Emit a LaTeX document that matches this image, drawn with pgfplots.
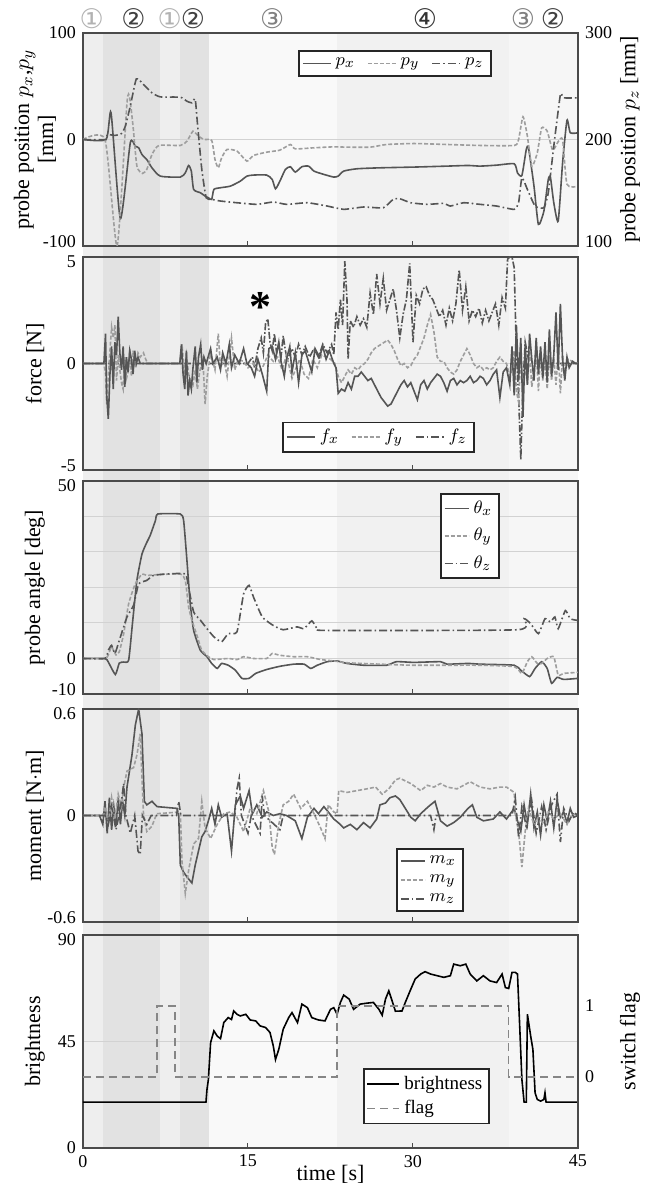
\documentclass[border=0pt]{standalone}
\usepackage{pgfplots}
\pgfplotsset{compat=1.18}
\usepackage{fontspec}
\setmainfont{Liberation Serif}
\newfontfamily\dejavu{DejaVu Sans}
\definecolor{dk}{HTML}{555555}
\definecolor{lt}{HTML}{9E9E9E}
\definecolor{framec}{HTML}{4A4A4A}
\definecolor{gridc}{HTML}{D2D2D2}
\definecolor{shA}{HTML}{EEEEEE}
\definecolor{shB}{HTML}{E2E2E2}
\definecolor{shC}{HTML}{F9F9F9}
\definecolor{shD}{HTML}{F1F1F1}
\definecolor{shE}{HTML}{F6F6F6}
\newcommand{\up}[1]{\raisebox{2pt}[\height][\depth]{#1}}
\newcommand{\dn}[1]{\raisebox{-2.5pt}[\height][\depth]{#1}}
\pgfplotsset{
  panel/.style={
    scale only axis, width=247.5pt, height=106.5pt,
    xmin=0, xmax=45, xtick={0,15,30,45}, xticklabels={},
    xtick pos=bottom, tick align=inside,
    axis line style={framec, line width=0.7pt},
    tick style={framec, line width=0.5pt}, major tick length=2.5pt, minor tick length=0pt,
    ytick style={draw=none},
    tick label style={font=\fontsize{9}{10}\selectfont},
    label style={font=\fontsize{11}{12}\selectfont},
    /pgf/number format/assume math mode=true,
    grid style={gridc, line width=0.5pt},
    ymajorgrids,
    legend style={draw=black!85, line width=0.9pt, fill=white, font=\fontsize{9.5}{10}\selectfont, inner sep=1.5pt},
    legend cell align=left,
    legend image code/.code={\draw[##1] (0pt,0pt) -- (14pt,0pt);},
  },
  leftlab/.style={ylabel style={at={(axis description cs:-0.097,0.5)}, anchor=center}},
  rightlab/.style={ylabel style={at={(axis description cs:1.105,0.5)}, anchor=center}},
  sx/.style={dk, line width=0.8pt},
  sy/.style={lt, line width=0.8pt, dash pattern=on 2pt off 1pt},
  sz/.style={dk, line width=0.8pt, dash pattern=on 4pt off 1.5pt on 0.8pt off 1.5pt},
}
\begin{document}
\begin{tikzpicture}
\path[use as bounding box, fill=white] (0,0) rectangle (323pt,592.5pt);
% phase shading (x = 41.5pt + 5.5pt * t)
\fill[shA] (41.5pt,18.5pt) rectangle (51.51pt,576pt);
\fill[shB] (51.51pt,18.5pt) rectangle (79.84pt,576pt);
\fill[shA] (79.84pt,18.5pt) rectangle (90.18pt,576pt);
\fill[shB] (90.18pt,18.5pt) rectangle (104.31pt,576pt);
\fill[shC] (104.31pt,18.5pt) rectangle (168.55pt,576pt);
\fill[shD] (168.55pt,18.5pt) rectangle (254.35pt,576pt);
\fill[shE] (254.35pt,18.5pt) rectangle (289pt,576pt);
% phase labels
\begin{scope}[font=\dejavu\fontsize{13.5}{14}\selectfont]
\node[text=black!30] at (45.9pt,583pt) {①};
\node[text=black!75] at (66.8pt,583pt) {②};
\node[text=black!30] at (84.9pt,583pt) {①};
\node[text=black!75] at (96.5pt,583pt) {②};
\node[text=black!50] at (136.1pt,583pt) {③};
\node[text=black!80] at (212.5pt,583pt) {④};
\node[text=black!50] at (261.5pt,583pt) {③};
\node[text=black!75] at (276.5pt,583pt) {②};
\end{scope}

% ---------------- Panel 1 : position
\begin{axis}[panel, leftlab, at={(41.5pt,576pt)}, anchor=north west,
  ymin=-100, ymax=100, ytick={-100,0,100}, yticklabels={\up{-100},0,100},
  ylabel={probe position $p_x$,$p_y$\\{[mm]}}, ylabel style={align=center}]
\addplot[sx, smooth, tension=0.35] coordinates {(0,0) (2.1,0) (2.55,25) (3.4,-74.4) (4.3,-3.1) (4.75,-6.3) (5.06,-7.8) (5.36,-14.1) (5.8,-18.8) (6.27,-26.6) (7.03,-34.4) (8.85,-35.3) (9.3,-31.3) (9.6,-24.4) (9.85,-29.7) (10.06,-46.9) (10.67,-50) (11.1,-53.1) (11.4,-54.7) (11.7,-56.3) (11.9,-46.9) (12.5,-45.3) (13.4,-43.8) (14.3,-39.1) (14.9,-34.4) (15.5,-33.4) (16.7,-33.4) (17.2,-37.5) (17.5,-46.3) (17.9,-39.1) (18.4,-28.1) (18.85,-25.6) (19.3,-30.6) (19.9,-25.6) (20.5,-25) (21.0,-29.7) (21.9,-32.8) (22.8,-35.3) (23.2,-34.4) (23.7,-29.7) (24.9,-27.5) (27.0,-26.6) (30.1,-25.9) (33.1,-25) (35.0,-24.4) (36.1,-25) (37.6,-24.1) (39.2,-22.8) (39.5,-31.3) (39.9,-33.8) (40.3,-9.4) (40.5,-7.8) (41.0,-43.8) (41.4,-79.7) (41.9,-67.2) (42.3,-37.5) (42.5,-35.9) (42.8,-59.4) (43.2,-76.6) (43.6,-21.9) (44.0,18.1) (44.3,6.3) (45,6.3)};
\addplot[sy, smooth, tension=0.35] coordinates {(0,0) (2.0,0) (3.1,-100) (4.0,34.4) (4.24,39.1) (4.55,12.5) (4.9,-25) (5.4,-31.9) (5.8,-28.1) (6.27,-14.1) (6.9,-5.6) (8.85,-5.6) (9.45,-1.6) (10.0,7.8) (10.5,3.1) (11.0,0) (11.7,-0.9) (12.0,-18.8) (12.3,-26.6) (12.6,-17.2) (13.1,-9.4) (14.0,-10.9) (14.9,-20.3) (15.5,-15) (16.7,-11.9) (17.9,-10) (18.85,-4.7) (19.3,-8.8) (21.0,-7.8) (22.8,-6.9) (24.0,-7.2) (26.1,-7.2) (27.6,-4.7) (30.1,-3.8) (33.1,-4.7) (36.1,-5.6) (39.2,-5.6) (39.6,0) (40.0,21.3) (40.4,3.1) (40.8,-25) (41.3,-12.5) (41.7,10.9) (42.2,7.8) (42.7,-10) (43.2,-2) (43.6,0) (44.0,-42) (45,-44)};
\end{axis}
\begin{axis}[panel, rightlab, at={(41.5pt,576pt)}, anchor=north west,
  ymin=100, ymax=300, ytick={100,200,300}, yticklabels={\up{100},200,300},
  axis y line*=right, axis x line=none, ymajorgrids=false,
  ylabel={probe position $p_z$ [mm]},
  legend columns=3, legend style={at={(0.63,0.857)}, anchor=center, /tikz/every even column/.append style={column sep=4pt}}]
\addlegendimage{sx}\addlegendentry{$p_x$}
\addlegendimage{sy}\addlegendentry{$p_y$}
\addplot[sz, smooth, tension=0.3] coordinates {(0,200) (2.1,200) (2.2,204.7) (2.9,203.8) (3.5,205.6) (3.85,212.5) (4.3,231.3) (4.85,256.9) (5.5,251.6) (6.27,243.8) (7.03,240) (8.85,239.7) (9.45,235.9) (9.9,234.4) (10.2,238.1) (10.4,215.6) (10.8,171.9) (11.2,145.3) (11.7,143.8) (12.5,142.2) (14.0,140.6) (15.8,139.1) (17.3,141.3) (18.5,139.1) (20.4,140.6) (22.2,137.5) (23.7,134.4) (25.5,136.6) (27.3,135.9) (28.2,143.8) (28.8,144.4) (29.8,140.6) (31.3,139.1) (32.8,140) (33.4,137.5) (34.6,140.6) (36.1,139.1) (37.6,137.5) (39.2,134.4) (39.6,140.6) (39.9,164.1) (40.4,153.1) (41.1,137.5) (41.9,135.9) (42.3,150) (42.8,193.8) (43.4,242.2) (43.7,239.1) (45,239.1)};
\addlegendentry{$p_z$}
\end{axis}

% ---------------- Panel 2 : force
\begin{axis}[panel, leftlab, at={(41.5pt,464pt)}, anchor=north west,
  ymin=-5, ymax=5, ytick={-5,0,5}, yticklabels={\up{-5},0,\dn{5}},
  ylabel={force [N]}]
\addplot[sz, dash pattern=on 3.5pt off 1pt on 0.8pt off 1pt] coordinates {(0,0) (15.0,0) (15.4,0.3) (15.6,-0.2) (15.9,0.7) (16.2,1.2) (16.4,0.5) (16.6,1.9) (16.8,2.1) (17.0,1.0) (17.2,0.6) (17.4,1.4) (17.6,0.5) (17.8,0.9) (18.0,0.3) (18.2,1.3) (18.4,0.6) (18.6,0.2) (19.0,0.7) (19.3,0.3) (19.6,0.9) (19.9,0.4) (20.2,0.8) (20.6,0.3) (21.0,0.7) (21.4,0.3) (21.8,0.9) (22.2,0.5) (22.6,0.9) (22.8,0.4) (23.0,2.4) (23.2,1.6) (23.4,3.0) (23.6,1.8) (23.8,4.8) (24.0,3.0) (24.1,0.2) (24.3,2.0) (24.6,1.7) (24.9,2.2) (25.2,1.8) (25.5,2.1) (25.8,1.7) (26.1,3.3) (26.4,2.3) (26.7,4.2) (27.0,2.8) (27.3,4.0) (27.6,2.5) (27.9,3.0) (28.2,3.5) (28.5,2.5) (28.8,1.2) (29.1,2.3) (29.4,3.0) (29.7,4.7) (30.0,1.0) (30.3,3.2) (30.6,2.8) (30.9,3.5) (31.2,3.6) (31.5,3.2) (31.8,3.0) (32.1,2.6) (32.4,2.2) (32.7,2.5) (33.0,1.8) (33.3,2.6) (33.6,2.0) (33.9,2.8) (34.2,4.4) (34.5,2.5) (34.8,3.6) (35.1,2.0) (35.4,2.5) (35.7,2.2) (36.0,2.6) (36.3,1.9) (36.6,2.5) (36.9,2.0) (37.2,2.4) (37.5,2.8) (37.8,1.8) (38.1,3.1) (38.4,2.6) (38.6,4.9) (38.8,5.0) (39.0,5.0) (39.2,4.5) (39.4,0.5) (39.6,-1.5) (39.8,-4.5) (40.0,-1.0) (40.2,1.0) (40.5,0.2) (41.0,0) (45,0)};
\addplot[sy] coordinates {(0,0) (1.9,0) (2.05,-0.5) (2.15,-1.9) (2.3,-0.6) (2.45,0.6) (2.6,1.7) (2.75,1.2) (2.9,1.8) (3.05,-0.8) (3.2,0.4) (3.35,-0.3) (3.5,-0.9) (3.65,-1.2) (3.8,0.3) (3.95,-0.7) (4.1,-0.4) (4.25,0.7) (4.4,-0.6) (4.55,0.6) (4.75,-0.2) (5.0,0.5) (5.2,0.3) (5.5,0.5) (5.7,0.2) (5.9,0) (8.8,0) (9.0,0.9) (9.2,-0.4) (9.4,0.4) (9.6,-0.5) (9.8,-0.8) (10.0,-1.0) (10.2,-0.3) (10.4,-1.2) (10.6,-0.4) (10.9,0.2) (11.1,-1.9) (11.3,-0.6) (11.6,0.5) (12.0,-0.3) (12.3,1.4) (12.5,-0.2) (12.8,0.2) (13.1,-0.6) (13.5,1.2) (13.8,-0.3) (14.1,0.2) (14.6,0.1) (15.0,-0.2) (15.5,0) (16.0,-0.4) (16.4,-0.1) (16.8,0.4) (17.3,0.1) (17.7,0.3) (18.1,-0.3) (18.5,0.4) (19.0,-0.7) (19.3,-0.3) (19.7,0.2) (20.1,-0.5) (20.5,-0.7) (20.9,0.2) (21.3,-0.2) (21.7,0.4) (22.1,0.3) (22.5,0.2) (22.9,0) (23.2,-0.6) (23.5,-0.9) (23.8,-0.6) (24.1,-0.3) (24.4,-0.5) (24.7,-0.2) (25.0,-0.3) (25.3,-0.1) (25.6,0.0) (25.9,0.2) (26.2,0.5) (26.5,0.7) (26.8,0.8) (27.1,0.9) (27.4,1.0) (27.7,1.1) (28.0,0.9) (28.3,0.6) (28.6,0.2) (28.9,-0.1) (29.2,0.0) (29.5,-0.2) (29.8,-0.1) (30.1,0.2) (30.4,0.4) (30.7,0.8) (31.0,1.2) (31.3,1.8) (31.6,2.3) (31.9,1.5) (32.2,0.3) (32.5,0.1) (32.8,0.1) (33.1,-0.2) (33.4,-0.4) (33.7,-0.5) (34.0,-0.3) (34.3,0.1) (34.6,0.4) (34.9,0.7) (35.2,0.4) (35.5,0.0) (35.8,-0.2) (36.1,-0.1) (36.4,-0.3) (36.7,-0.2) (37.0,-0.3) (37.3,-0.2) (37.6,0.1) (37.9,0.3) (38.2,0.1) (38.5,0.0) (38.8,-0.6) (39.0,-0.3) (39.2,0.6) (39.4,-1.3) (39.6,-1.8) (39.8,0.4) (40.0,-1.2) (40.2,-0.2) (40.4,-1.0) (40.6,0.6) (40.8,-1.1) (41.0,-0.4) (41.2,0.8) (41.4,-1.3) (41.6,0.5) (41.8,-0.8) (42.0,0.2) (42.2,-1.2) (42.4,0.4) (42.6,-0.8) (42.8,0.3) (43.0,-1.0) (43.2,0.5) (43.4,-1.4) (43.6,0.4) (43.8,-0.5) (44.1,0.2) (44.5,0.1) (45,0)};
\addplot[sx] coordinates {(0,0) (1.9,0) (2.05,1.4) (2.15,-1.5) (2.3,-2.6) (2.45,-0.5) (2.6,0.8) (2.75,-1.2) (2.9,1.0) (3.05,0.4) (3.2,2.2) (3.35,0.5) (3.5,-0.3) (3.65,0.8) (3.8,-1.1) (3.95,0.3) (4.1,-0.4) (4.25,0.6) (4.4,0.2) (4.55,-0.5) (4.7,0.6) (4.85,0) (5.0,0.3) (5.2,0) (8.8,0) (8.95,0.9) (9.1,-0.5) (9.25,-1.2) (9.4,0.6) (9.55,-1.5) (9.7,-0.8) (9.85,-1.2) (10.0,-0.2) (10.2,0.8) (10.35,-0.9) (10.5,0.3) (10.7,0.9) (10.85,-0.3) (11.0,0.3) (11.2,0) (11.6,0.7) (11.8,0) (12.2,0.3) (12.5,-0.3) (12.7,0.5) (13.0,0) (13.3,0.9) (13.5,-0.2) (13.8,0.4) (14.2,0) (14.6,0.7) (14.9,0) (15.3,-0.2) (15.6,-0.6) (15.9,0.2) (16.3,-0.5) (16.7,-1.3) (16.9,0.7) (17.2,0.8) (17.5,0.2) (17.8,1.0) (18.0,0.1) (18.3,-0.6) (18.5,0.2) (18.8,0.8) (19.0,-0.4) (19.3,0.5) (19.6,-0.9) (19.9,0.4) (20.2,0.6) (20.5,0.1) (20.8,-0.4) (21.1,0.7) (21.5,0.3) (21.8,0.8) (22.1,0.2) (22.4,0.6) (22.8,0.0) (23.0,-0.2) (23.2,-1.4) (23.5,-1.2) (23.8,-1.3) (24.1,-0.9) (24.4,-1.2) (24.7,-0.6) (25.0,-0.6) (25.3,-0.4) (25.6,-0.6) (25.9,-0.8) (26.2,-0.7) (26.5,-1.0) (26.8,-1.3) (27.1,-1.6) (27.4,-1.8) (27.7,-2.0) (28.0,-1.9) (28.3,-1.6) (28.6,-1.3) (28.9,-1.0) (29.2,-0.8) (29.5,-1.1) (29.8,-0.9) (30.1,-1.3) (30.4,-1.7) (30.7,-1.0) (31.0,-0.8) (31.3,-1.2) (31.6,-0.9) (31.9,-0.7) (32.2,-0.5) (32.5,-0.6) (32.8,-0.9) (33.1,-1.3) (33.4,-0.8) (33.7,-0.7) (34.0,-1.0) (34.3,-0.8) (34.6,-0.9) (34.9,-0.8) (35.2,-0.6) (35.5,-0.9) (35.8,-0.8) (36.1,-0.6) (36.4,-0.7) (36.7,-1.0) (37.0,-0.8) (37.3,-0.5) (37.6,-0.3) (37.9,-1.6) (38.2,-0.4) (38.5,-0.2) (38.8,-1.0) (39.0,0.8) (39.2,-1.5) (39.4,1.8) (39.6,-0.8) (39.8,1.2) (40.0,-2.5) (40.2,0.9) (40.4,-1.0) (40.6,1.4) (40.8,0.2) (41.0,-0.8) (41.2,1.2) (41.4,-0.5) (41.6,0.8) (41.8,-0.7) (42.0,1.0) (42.2,-0.9) (42.4,1.6) (42.6,-0.6) (42.8,0.4) (43.0,2.4) (43.2,-0.3) (43.4,2.8) (43.6,0.2) (43.8,-0.8) (44.0,0.3) (44.2,-0.2) (44.5,0.1) (44.8,0) (45,0)};
\node[font=\bfseries\fontsize{22}{22}\selectfont, inner sep=0pt] at (axis cs:16.1,2.67) {*};
\end{axis}
% legend of panel 2 in an overlay axis
\begin{axis}[panel, at={(41.5pt,464pt)}, anchor=north west, hide axis,
  ymin=-5, ymax=5, legend columns=3,
  legend style={at={(0.597,0.154)}, anchor=center, /tikz/every even column/.append style={column sep=4pt}}]
\addlegendimage{sx}\addlegendentry{$f_x$}
\addlegendimage{sy}\addlegendentry{$f_y$}
\addlegendimage{sz}\addlegendentry{$f_z$}
\end{axis}

% ---------------- Panel 3 : angle
\begin{axis}[panel, leftlab, at={(41.5pt,352pt)}, anchor=north west,
  ymin=-10, ymax=50, ytick={-10,0,50}, yticklabels={\up{-10},0,\dn{50}},
  minor ytick={10,20,30,40}, yminorgrids, minor grid style={gridc, line width=0.5pt},
  ylabel={probe angle [deg]},
  legend image code/.code={\draw[#1] (0pt,0pt) -- (12pt,0pt);},
  legend style={at={(0.782,0.742)}, anchor=center, row sep=2pt}]
\addplot[sx, smooth, tension=0.3] coordinates {(0,0) (2.0,0) (2.3,-1) (2.94,-4.5) (3.3,-1.3) (3.7,-1.0) (4.15,-0.5) (4.5,10) (4.9,22) (5.36,29.4) (5.8,32.7) (6.1,34.6) (6.58,38.8) (6.8,40.7) (8.85,40.7) (9.15,38.8) (9.45,27.6) (9.75,15.4) (10.06,7.9) (10.67,2.3) (11.27,0.5) (11.7,-1.4) (12.2,-2.8) (12.6,-1.4) (13.2,-1.9) (13.85,-3.3) (14.45,-5.6) (15.1,-5.6) (15.7,-4.2) (16.7,-3.1) (17.9,-2.2) (19.15,-1.6) (20.1,-1.6) (20.7,-2.8) (21.3,-1.9) (22.2,-0.9) (23.1,-0.7) (24.0,-1.4) (25.5,-1.9) (27.6,-1.9) (28.5,-0.9) (30.1,-1.1) (32.5,-0.9) (33.1,-1.6) (35,-1.4) (36.1,-1.6) (39.2,-1.9) (39.8,-3.3) (40.6,-5.1) (41.1,-2.8) (41.7,-0.9) (42.2,-2.8) (42.6,-7.0) (43.1,-5.3) (43.7,-5.9) (45,-5.6)};
\addlegendentry{$\theta_x$}
\addplot[sy, smooth, tension=0.3] coordinates {(0,0) (2.0,0) (2.3,1) (2.6,3.3) (3.0,1) (3.3,1.9) (3.7,7) (4.15,15.4) (4.75,21) (5.36,23.8) (5.8,23.4) (6.73,23.6) (8.85,23.8) (9.3,22) (9.6,14.5) (9.9,10.8) (10.4,6.1) (10.8,2.3) (11.4,0.5) (11.9,-0.3) (13.2,0) (14.0,-0.3) (14.6,0.5) (15.5,0) (16.7,0) (17.2,1.4) (17.9,0.9) (19.15,0.5) (20.4,0.5) (21.6,-0.3) (22.8,-0.7) (24,-1.2) (27,-1.6) (30.1,-1.9) (36.1,-1.9) (39.2,-2.3) (39.9,-4.2) (40.4,-0.9) (40.8,0.5) (41.3,-1.4) (41.7,-1.4) (42.2,0) (42.8,0.5) (43.2,-4.7) (43.7,-4.2) (45,-3.9)};
\addlegendentry{$\theta_y$}
\addplot[sz, smooth, tension=0.3] coordinates {(0,0) (2.0,0) (2.3,2.3) (2.6,3.7) (2.9,1.4) (3.3,5.1) (4.0,11.7) (4.6,15) (5.06,21) (5.8,22) (6.4,23.4) (7.6,23.8) (9.3,23.8) (9.6,20) (10.06,13.1) (10.67,10.8) (11.27,8.4) (11.9,6.1) (12.6,4.7) (13.2,7) (14.0,7.5) (14.6,18.2) (15.1,20.6) (15.5,17.3) (16.3,11.7) (17.3,9.3) (18.2,8.1) (19.45,8.9) (20.1,8.4) (20.8,10.6) (21.3,8.4) (22.2,7.9) (39.5,8.1) (40.1,11.2) (40.7,9.8) (41.4,7) (42.0,11.2) (42.5,10.3) (42.9,11.7) (43.2,8.4) (43.85,13.5) (44.3,11.2) (45,10.7)};
\addlegendentry{$\theta_z$}
\end{axis}

% ---------------- Panel 4 : moment
\begin{axis}[panel, leftlab, at={(41.5pt,238pt)}, anchor=north west,
  ymin=-0.6, ymax=0.6, ytick={-0.6,0,0.6}, yticklabels={\up{-0.6},0,\dn{0.6}},
  ylabel={moment [N$\cdot$m]},
  legend image code/.code={\draw[#1] (0pt,0pt) -- (12pt,0pt);},
  legend style={at={(0.701,0.197)}, anchor=center}]
\addplot[sx] coordinates {(0,0) (1.5,0) (1.8,-0.05) (2.0,0.08) (2.2,-0.1) (2.4,0.1) (2.6,-0.08) (2.8,0.05) (3.0,-0.06) (3.2,0.1) (3.4,-0.05) (3.6,0.08) (3.8,0.0) (4.0,0.16) (4.45,0.34) (4.76,0.51) (5.06,0.6) (5.36,0.46) (5.58,0.08) (5.8,0.06) (6.27,0.08) (6.73,0.05) (8.55,0.04) (8.7,0.0) (8.85,-0.28) (9.15,-0.32) (9.5,-0.35) (9.9,-0.38) (10.2,-0.28) (10.5,-0.2) (10.8,-0.12) (11.1,-0.09) (11.4,-0.03) (11.7,0.04) (12.0,-0.05) (12.3,0.06) (12.6,-0.01) (13.1,0.01) (13.5,-0.2) (13.85,0.06) (14.3,0.11) (14.6,0.04) (15.1,0.14) (15.4,0.01) (15.8,0.06) (16.3,-0.01) (16.7,0.02) (17.3,0.0) (17.9,0.01) (18.5,0.0) (19.3,-0.03) (19.9,-0.13) (20.4,-0.01) (21.0,0.04) (21.4,0.01) (21.9,0.05) (22.3,0.02) (22.8,-0.02) (23.2,-0.04) (23.7,-0.07) (24.3,-0.05) (24.9,-0.08) (25.5,-0.04) (26.1,-0.07) (26.7,-0.02) (27.0,0.06) (27.5,0.07) (27.9,0.1) (28.4,0.11) (28.8,0.09) (29.3,0.04) (29.8,-0.01) (30.2,-0.03) (30.7,0.01) (31.4,0.05) (32.0,0.08) (32.5,-0.03) (33.1,-0.06) (33.7,-0.04) (34.3,-0.01) (35.0,0.04) (35.4,0.06) (35.8,-0.01) (36.4,-0.03) (37.3,-0.02) (37.9,0.02) (38.5,-0.02) (39.2,0.04) (39.5,-0.03) (39.8,-0.09) (40.1,0.06) (40.4,-0.05) (40.7,0.12) (41.0,-0.07) (41.3,0.02) (41.6,-0.11) (41.9,0.06) (42.2,-0.03) (42.5,0.08) (42.8,-0.07) (43.1,0.09) (43.4,-0.01) (43.7,0.02) (44.0,-0.04) (44.3,0.04) (44.6,-0.01) (45,0.0)};
\addlegendentry{$m_x$}
\addplot[sy] coordinates {(0,0) (1.8,0) (2.0,0.05) (2.3,-0.05) (2.6,0.1) (2.9,-0.02) (3.2,0.12) (3.5,0.05) (3.7,0.16) (4.0,0.25) (4.3,0.26) (4.6,0.27) (4.9,0.34) (5.2,0.46) (5.5,0.01) (5.8,-0.09) (6.27,-0.06) (6.7,0.01) (8.85,0.02) (9.0,-0.26) (9.3,-0.44) (9.6,-0.31) (10.06,-0.16) (10.5,-0.13) (10.8,0.08) (11.1,-0.07) (11.6,-0.13) (12.2,-0.05) (12.8,0.01) (13.4,0.02) (14.0,-0.01) (14.6,-0.09) (15.2,0.04) (15.8,0.01) (16.4,0.14) (16.9,0.02) (17.2,-0.18) (17.4,-0.22) (17.8,-0.05) (18.2,0.06) (18.7,0.08) (19.15,0.12) (19.8,0.04) (20.4,0.08) (21.0,0.01) (21.6,-0.07) (22.0,-0.13) (22.3,0.06) (22.8,0.02) (23.1,0.01) (23.25,0.14) (24.0,0.13) (24.9,0.14) (25.8,0.15) (26.6,0.16) (27.2,0.12) (27.8,0.15) (28.4,0.2) (28.8,0.21) (29.8,0.18) (30.7,0.14) (31.3,0.17) (31.9,0.16) (32.5,0.18) (33.1,0.16) (34.0,0.15) (34.6,0.17) (35.2,0.19) (36.1,0.16) (37.0,0.15) (37.9,0.16) (38.5,0.16) (39.2,0.13) (39.3,0.01) (39.6,-0.09) (39.9,-0.29) (40.2,-0.09) (40.5,0.04) (41.0,-0.05) (41.4,-0.01) (41.9,-0.05) (42.3,0.02) (42.8,-0.02) (43.4,0.01) (44.0,-0.05) (44.5,0.01) (45,0.0)};
\addlegendentry{$m_y$}
\addplot[sz] coordinates {(0,0) (2.0,0) (2.3,-0.05) (2.6,0.05) (3.0,-0.08) (3.4,0.04) (3.7,0.18) (3.9,0.0) (4.3,-0.1) (4.7,0.0) (5.0,-0.2) (5.2,-0.22) (5.4,0.0) (5.8,-0.05) (6.2,0.0) (8.5,0.0) (8.7,0.08) (8.9,0.0) (13.8,0.0) (14.0,0.15) (14.2,0.21) (14.4,0.0) (15.0,-0.1) (15.3,0.0) (16.1,-0.1) (16.3,0.11) (16.5,0.0) (17.9,-0.08) (18.2,0.0) (31.6,0.0) (31.9,-0.08) (32.1,0.0) (39.0,0.0) (39.3,0.1) (39.6,-0.12) (39.9,0.05) (40.3,-0.06) (40.8,0.08) (41.2,-0.1) (41.7,0.05) (42.1,-0.08) (42.6,0.06) (43.1,0.12) (43.4,-0.15) (43.7,0.04) (44.2,-0.03) (44.6,0.02) (45,0.0)};
\addlegendentry{$m_z$}
\end{axis}

% ---------------- Panel 5 : brightness
\begin{axis}[panel, leftlab, at={(41.5pt,125pt)}, anchor=north west,
  ymin=0, ymax=90, ytick={0,45,90}, yticklabels={0,45,\dn{90}},
  xticklabels={0,15,30,45},
  ylabel={brightness}, xlabel={time [s]},
  xlabel style={at={(axis description cs:0.5,0)}, anchor=base, yshift=-16.5pt}]
\addplot[black, line width=0.8pt] coordinates {(0,19.4) (11.18,19.4) (11.27,24.7) (11.4,29.0) (11.6,44.5) (11.9,49.5) (12.2,47.3) (12.5,46.2) (12.8,53.0) (13.2,55.1) (13.5,54.3) (13.7,57.9) (14.0,56.5) (14.3,55.8) (14.8,56.5) (15.2,54.1) (15.7,53.7) (16.1,51.6) (16.6,50.9) (17.0,48.8) (17.3,43.1) (17.5,37.4) (17.8,41.7) (18.2,50.2) (18.7,55.1) (19.0,57.2) (19.5,53.0) (19.9,60.8) (20.4,59.3) (20.8,55.1) (21.4,54.1) (22.0,53.7) (22.5,58.6) (22.8,59.3) (23.1,56.5) (23.4,61.5) (23.7,64.6) (24.2,62.9) (24.6,58.6) (25.2,60.8) (25.8,61.2) (26.4,61.5) (26.9,58.6) (27.2,56.1) (27.5,62.9) (27.8,66.4) (28.1,62.2) (28.4,57.8) (29.0,57.9) (29.3,61.5) (29.8,67.1) (30.2,71.4) (30.7,73.5) (31.1,74.5) (31.6,73.5) (32.2,72.8) (32.8,72.1) (33.4,72.8) (33.7,77.7) (34.3,77.0) (34.8,77.7) (35.2,73.5) (35.8,70.6) (36.4,72.8) (37.0,70.6) (37.6,69.9) (38.1,73.5) (38.4,67.8) (38.7,67.4) (39.0,74.2) (39.3,74.2) (39.5,73.5) (39.7,51.6) (39.9,29.0) (40.1,19.4) (40.3,19.4) (40.4,56.5) (40.7,47.3) (40.9,41.7) (41.1,23.3) (41.3,20.5) (41.6,19.8) (41.9,20.5) (42.0,23.3) (42.1,19.4) (45,19.4)};
\end{axis}
\begin{axis}[panel, rightlab, at={(41.5pt,125pt)}, anchor=north west,
  ymin=-1, ymax=2, ytick={0,1}, yticklabels={0,1},
  axis y line*=right, axis x line=none, ymajorgrids=false,
  ylabel={switch flag},
  legend image code/.code={\draw[#1] (0pt,0pt) -- (16pt,0pt);},
  legend style={at={(0.694,0.243)}, anchor=center}]
\addlegendimage{black, line width=0.8pt}\addlegendentry{brightness}
\addplot[const plot, lt!85!black, line width=0.8pt, dash pattern=on 4pt off 2.5pt] coordinates {(0,0) (6.73,1) (8.36,0) (23.1,1) (38.7,0) (45,0)};
\addlegendentry{flag}
\end{axis}
\end{tikzpicture}
\end{document}
